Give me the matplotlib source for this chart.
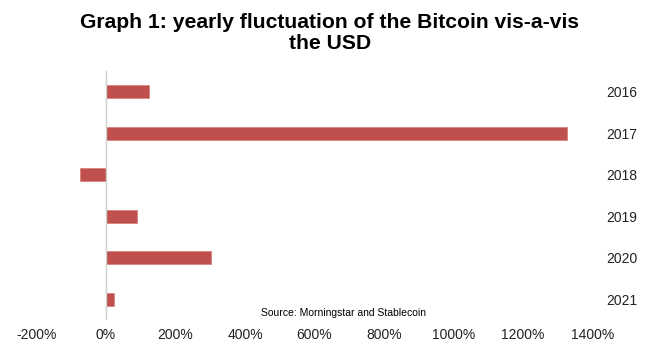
import matplotlib

matplotlib.use("Agg")
import matplotlib.pyplot as plt
from matplotlib.ticker import FuncFormatter

plt.rcParams["font.family"] = ["Liberation Sans", "DejaVu Sans"]

years = ["2016", "2017", "2018", "2019", "2020", "2021"]
change_pct = [125, 1328, -74, 88, 301, 22]
x_ticks = [-200, 0, 200, 400, 600, 800, 1000, 1200, 1400]

fig = plt.figure(figsize=(6.6, 3.6), dpi=100)
ax = fig.add_axes([0.0553, 0.111, 0.8424, 0.692])

pos = list(range(len(years)))
ax.barh(pos, change_pct, height=0.31, color="#c0504d", edgecolor="#d9827f", linewidth=0.6)
ax.axvline(0, color="#d0d0d0", linewidth=1)

ax.set_xlim(-200, 1400)
ax.set_ylim(len(years) - 0.5, -0.5)
ax.set_xticks(x_ticks)
ax.xaxis.set_major_formatter(FuncFormatter(lambda v, _: f"{v:.0f}%"))
ax.set_yticks(pos)
ax.set_yticklabels(years)
ax.yaxis.tick_right()
ax.tick_params(axis="y", length=0, pad=10, labelsize=10, colors="#222222")
ax.tick_params(axis="x", length=0, pad=6, labelsize=10, colors="#222222")
for s in ax.spines.values():
    s.set_visible(False)

# two-line bold title, centred over the whole figure
fig.text(0.5, 0.965, "Graph 1: yearly fluctuation of the Bitcoin vis-a-vis\nthe USD",
         ha="center", va="top", fontsize=15.2, fontweight="bold", linespacing=1.15)
fig.text(0.52, 0.13, "Source: Morningstar and Stablecoin", ha="center", va="center", fontsize=7.5)

fig.savefig("out.png", dpi=100)
